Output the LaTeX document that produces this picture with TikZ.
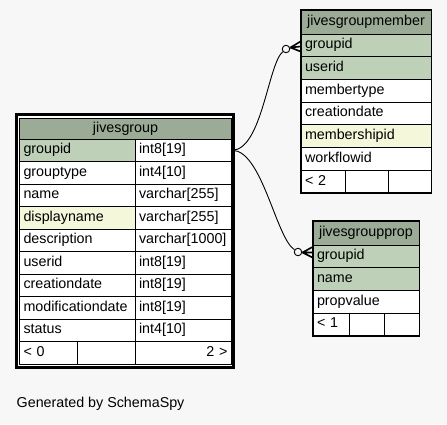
\documentclass[tikz,border=0pt]{standalone}
\usepackage{fontspec}
\setmainfont{Liberation Sans}
\definecolor{schema-bg}{HTML}{F7F7F7}
\definecolor{head-green}{HTML}{9BAB96}
\definecolor{key-green}{HTML}{BED1B8}
\definecolor{index-yellow}{HTML}{F4F7DA}

\tikzset{
  cellbox/.style={draw=black, line width=0.9pt, inner xsep=4pt, inner ysep=0pt,
    text height=10pt, text depth=3pt, align=left, font=\fontsize{14.3}{16}\selectfont},
  headbox/.style={cellbox, fill=head-green, align=center},
  crowline/.style={line width=1.6pt},
  optcircle/.style={circle, draw=black, line width=0.9pt, fill=schema-bg,
    minimum size=7.5pt, inner sep=0pt}
}

\begin{document}
\begin{tikzpicture}[x=1pt, y=-1pt]
  \fill[schema-bg] (0,0) rectangle (447,424);

  % jivesgroup
  \draw[line width=3pt, fill=white] (16.5,114.5) rectangle (233.5,367.5);
  \node[headbox, minimum width=212pt, minimum height=20.5pt, text width=204pt]
    (jg-head) at (125.5,128.75) {jivesgroup};
  \foreach \i/\n/\t/\c in {0/groupid/int8[19]/key-green, 1/grouptype/int4[10]/white,
      2/name/varchar[255]/white, 3/displayname/varchar[255]/index-yellow,
      4/description/varchar[1000]/white, 5/userid/int8[19]/white,
      6/creationdate/int8[19]/white, 7/modificationdate/int8[19]/white,
      8/status/int4[10]/white} {
    \node[cellbox, fill=\c, minimum width=115.5pt, minimum height=22.5pt, text width=107.5pt]
      (jg-n\i) at (77.25,{150.25+22.5*\i}) {\n};
    \node[cellbox, fill=white, minimum width=96.5pt, minimum height=22.5pt, text width=88.5pt]
      (jg-t\i) at (183.25,{150.25+22.5*\i}) {\t};
  }
  \node[cellbox, fill=white, minimum width=57.5pt, minimum height=22.5pt, text width=49.5pt]
    (jg-f1) at (48.25,352.75) {< 0};
  \node[cellbox, fill=white, minimum width=58pt, minimum height=22.5pt] (jg-f2) at (106,352.75) {};
  \node[cellbox, fill=white, minimum width=96.5pt, minimum height=22.5pt, text width=88.5pt,
    align=right] (jg-f3) at (183.25,352.75) {2 >};

  % jivesgroupmember
  \node[headbox, minimum width=130pt, minimum height=24pt, text width=122pt]
    (jgm-head) at (366,22) {jivesgroupmember};
  \foreach \i/\n/\c in {0/groupid/key-green, 1/userid/key-green, 2/membertype/white,
      3/creationdate/white, 4/membershipid/index-yellow, 5/workflowid/white} {
    \node[cellbox, fill=\c, minimum width=130pt, minimum height=22.7pt, text width=122pt]
      (jgm-n\i) at (366,{45.35+22.7*\i}) {\n};
  }
  \node[cellbox, fill=white, minimum width=44pt, minimum height=22.7pt, text width=36pt]
    (jgm-f1) at (323,181.55) {< 2};
  \node[cellbox, fill=white, minimum width=43pt, minimum height=22.7pt] (jgm-f2) at (366.5,181.55) {};
  \node[cellbox, fill=white, minimum width=43pt, minimum height=22.7pt] (jgm-f3) at (409.5,181.55) {};
  \draw[line width=1.5pt] (jgm-head.north west) rectangle (jgm-f3.south east);

  % jivesgroupprop
  \node[headbox, minimum width=106pt, minimum height=24pt, text width=98pt]
    (jgp-head) at (366,233) {jivesgroupprop};
  \foreach \i/\n/\c in {0/groupid/key-green, 1/name/key-green, 2/propvalue/white} {
    \node[cellbox, fill=\c, minimum width=106pt, minimum height=22.7pt, text width=98pt]
      (jgp-n\i) at (366,{256.35+22.7*\i}) {\n};
  }
  \node[cellbox, fill=white, minimum width=36pt, minimum height=22.7pt, text width=28pt]
    (jgp-f1) at (331,324.45) {< 1};
  \node[cellbox, fill=white, minimum width=35pt, minimum height=22.7pt] (jgp-f2) at (366.5,324.45) {};
  \node[cellbox, fill=white, minimum width=35pt, minimum height=22.7pt] (jgp-f3) at (401.5,324.45) {};
  \draw[line width=1.5pt] (jgp-head.north west) rectangle (jgp-f3.south east);

  % relationships
  \node[optcircle] (jgm-o) at (286,49) {};
  \node[optcircle] (jgp-o) at (298,252) {};
  \coordinate (jgm-crow) at (290.5,47.5);
  \coordinate (jgp-crow) at (302.5,252.5);
  \draw[line width=0.9pt] (jg-t0.east) .. controls (262,150) and (268,64) .. (jgm-o);
  \draw[line width=0.9pt] (jg-t0.east) .. controls (262,150) and (276,238) .. (jgp-o);
  \draw[crowline] (jgm-o) -- (jgm-crow);
  \draw[crowline] (jgm-crow) -- (300.5,41.5) (jgm-crow) -- (300.5,46.5) (jgm-crow) -- (300.5,51.5);
  \draw[crowline] (jgp-o) -- (jgp-crow);
  \draw[crowline] (jgp-crow) -- (312.5,247) (jgp-crow) -- (312.5,252.5) (jgp-crow) -- (312.5,257.5);

  \node[anchor=west, inner sep=0pt, font=\fontsize{14.3}{16}\selectfont] (credit) at (16.5,404)
    {Generated by SchemaSpy};
\end{tikzpicture}
\end{document}
